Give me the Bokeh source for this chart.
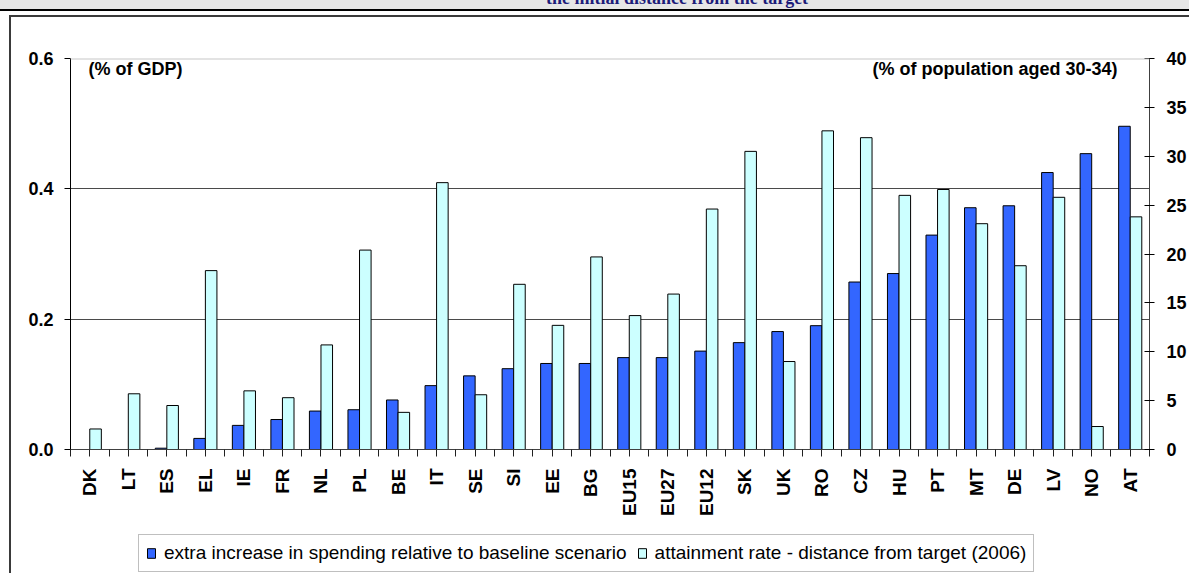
from bokeh.plotting import figure
from bokeh.layouts import column
from bokeh.models import (Range1d, LinearAxis, FixedTicker, Span, Label, Legend,
                          LegendItem, ColumnDataSource, Div)
from bokeh.transform import dodge
from bokeh.embed import file_html
from bokeh.resources import INLINE

countries = ["DK", "LT", "ES", "EL", "IE", "FR", "NL", "PL", "BE", "IT", "SE", "SI", "EE", "BG",
             "EU15", "EU27", "EU12", "SK", "UK", "RO", "CZ", "HU", "PT", "MT", "DE", "LV", "NO", "AT"]
spending = [0.0, 0.0, 0.002, 0.017, 0.037, 0.046, 0.059, 0.061, 0.076, 0.098, 0.113, 0.124, 0.132, 0.132,
            0.141, 0.141, 0.151, 0.164, 0.181, 0.190, 0.257, 0.270, 0.329, 0.371, 0.374, 0.425, 0.454, 0.496]
attainment = [2.1, 5.7, 4.5, 18.3, 6.0, 5.3, 10.7, 20.4, 3.8, 27.3, 5.6, 16.9, 12.7, 19.7,
              13.7, 15.9, 24.6, 30.5, 9.0, 32.6, 31.9, 26.0, 26.6, 23.1, 18.8, 25.8, 2.35, 23.8]
left_ticks = [0.0, 0.2, 0.4, 0.6]
right_ticks = [0, 5, 10, 15, 20, 25, 30, 35, 40]
title_text = "the initial distance from the target"
series_names = ["extra increase in spending relative to baseline scenario",
                "attainment rate - distance from target (2006)"]

n = len(countries)
centers = [i + 0.5 for i in range(n)]
src = ColumnDataSource(dict(x=centers, spending=spending, attainment=attainment, name=countries))

BLUE = "#3366FF"
LIGHT = "#CCFFFF"
W = 1189
HEAD = 9          # grey header band
LEG_H = 46        # legend strip at the bottom
H = 573 - HEAD - LEG_H
FRAME_TOP = 58 - HEAD
FRAME_BOTTOM = 449 - HEAD

# header band with the (cut-off) title
head = Div(text=f'<div style="position:absolute;left:546px;top:-11px;white-space:nowrap;'
                f'font-family:\'Liberation Serif\';font-weight:bold;font-size:18px;line-height:18px;'
                f'color:#1c1c7a">{title_text}</div>',
           width=W, height=HEAD,
           styles={"background-color": "#e6e6e6", "overflow": "hidden", "position": "relative",
                   "margin": "0", "padding": "0"})

p = figure(width=W, height=H, output_backend="svg", toolbar_location=None,
           x_range=Range1d(0, n), y_range=Range1d(0, 0.6),
           min_border_left=70, min_border_right=W - 1150, min_border_top=FRAME_TOP,
           min_border_bottom=H - FRAME_BOTTOM,
           background_fill_color="white", border_fill_color=None)
p.outline_line_color = None
p.styles = {
    "background-color": "white",
    "background-image": "linear-gradient(#000,#000), linear-gradient(#3a3a3a,#3a3a3a), linear-gradient(#3a3a3a,#3a3a3a)",
    "background-size": "100% 2px, 100% 2px, 2px 100%",
    "background-position": "0 0, 9px 6px, 9px 6px",
    "background-repeat": "no-repeat",
}
p.extra_y_ranges = {"right": Range1d(0, 40)}

r1 = p.vbar(x=dodge("x", -0.15), top="spending", width=0.30, source=src, fill_color=BLUE,
            line_color="black", line_width=1)
r2 = p.vbar(x=dodge("x", 0.15), top="attainment", width=0.30, source=src, fill_color=LIGHT,
            line_color="black", line_width=1, y_range_name="right")

# grid
p.xgrid.visible = False
p.ygrid.ticker = FixedTicker(ticks=[0.2, 0.4])
p.ygrid.grid_line_color = "#4a4a4a"
p.ygrid.grid_line_width = 1
p.add_layout(Span(location=0.6, dimension="width", line_color="#c8c8c8", line_width=2))

# x axis
xa = p.xaxis[0]
xa.ticker = FixedTicker(ticks=[i * 0.5 for i in range(2 * n + 1)])
xa.major_label_overrides = {**{i * 0.5: "" for i in range(2 * n + 1)},
                            **{c: name for c, name in zip(centers, countries)}}
xa.major_label_orientation = 3.14159265 / 2
xa.major_label_text_font = "Liberation Sans"
xa.major_label_text_font_style = "bold"
xa.major_label_text_font_size = "19px"
xa.major_label_text_color = "black"
xa.major_label_standoff = 12
xa.major_tick_out = 7
xa.major_tick_in = 0
xa.minor_tick_out = 0
xa.axis_line_color = "#404040"
xa.major_tick_line_color = "#202020"

# left axis
ya = p.yaxis[0]
ya.ticker = FixedTicker(ticks=left_ticks)
ya.major_label_overrides = {t: f"{t:.1f}" for t in left_ticks}
ya.major_label_text_font = "Liberation Sans"
ya.major_label_text_font_style = "bold"
ya.major_label_text_font_size = "18px"
ya.major_label_text_color = "black"
ya.major_tick_out = 6
ya.major_tick_in = 0
ya.minor_tick_out = 0
ya.major_label_standoff = 11
ya.axis_line_color = "black"

# right axis
ra = LinearAxis(y_range_name="right", ticker=FixedTicker(ticks=right_ticks))
ra.major_label_text_font = "Liberation Sans"
ra.major_label_text_font_style = "bold"
ra.major_label_text_font_size = "18px"
ra.major_label_text_color = "black"
ra.major_tick_out = 5
ra.major_tick_in = 5
ra.minor_tick_out = 0
ra.major_label_standoff = 12
ra.axis_line_color = "#404040"
p.add_layout(ra, "right")

# unit notes
p.add_layout(Label(x=0.47, y=0.6, text="(% of GDP)", text_font="Liberation Sans",
                   text_font_style="bold", text_font_size="18px", text_baseline="top",
                   text_align="left", text_color="black"))
p.add_layout(Label(x=27.17, y=0.6, text="(% of population aged 30-34)", text_font="Liberation Sans",
                   text_font_style="bold", text_font_size="18px", text_baseline="top",
                   text_align="right", text_color="black"))

# legend strip (separate small figure; same bars drawn far off-range there, used as legend keys)
pl = figure(width=W, height=LEG_H, output_backend="svg", toolbar_location=None,
            x_range=Range1d(1000, 1001), y_range=Range1d(1000, 1001),
            x_axis_location=None, y_axis_location=None,
            min_border_left=0, min_border_right=0, min_border_top=0, min_border_bottom=0,
            background_fill_color=None, border_fill_color=None)
pl.outline_line_color = None
pl.grid.visible = False
pl.styles = {
    "background-color": "white",
    "background-image": "linear-gradient(#3a3a3a,#3a3a3a)",
    "background-size": "2px 100%",
    "background-position": "9px 0",
    "background-repeat": "no-repeat",
}
k1 = pl.vbar(x=dodge("x", -0.15), top="spending", width=0.3, source=src,
             fill_color=BLUE, line_color="black", line_width=1)
k2 = pl.vbar(x=dodge("x", 0.15), top="attainment", width=0.3, source=src,
             fill_color=LIGHT, line_color="black", line_width=1)

legend = Legend(items=[LegendItem(label=series_names[0], renderers=[k1]),
                       LegendItem(label=series_names[1], renderers=[k2])],
                orientation="horizontal", location=(68, 1))
legend.label_text_font = "Liberation Sans"
legend.label_text_font_size = "19px"
legend.label_text_color = "black"
legend.label_height = 20
legend.glyph_width = 10
legend.glyph_height = 12
legend.label_standoff = 8
legend.spacing = 10
legend.padding = 7
legend.margin = 0
legend.border_line_color = "#808080"
legend.border_line_width = 1
legend.background_fill_color = "white"
legend.background_fill_alpha = 1.0
pl.add_layout(legend, "center")

open("out.html", "w").write(file_html(column(head, p, pl, spacing=0), INLINE))
